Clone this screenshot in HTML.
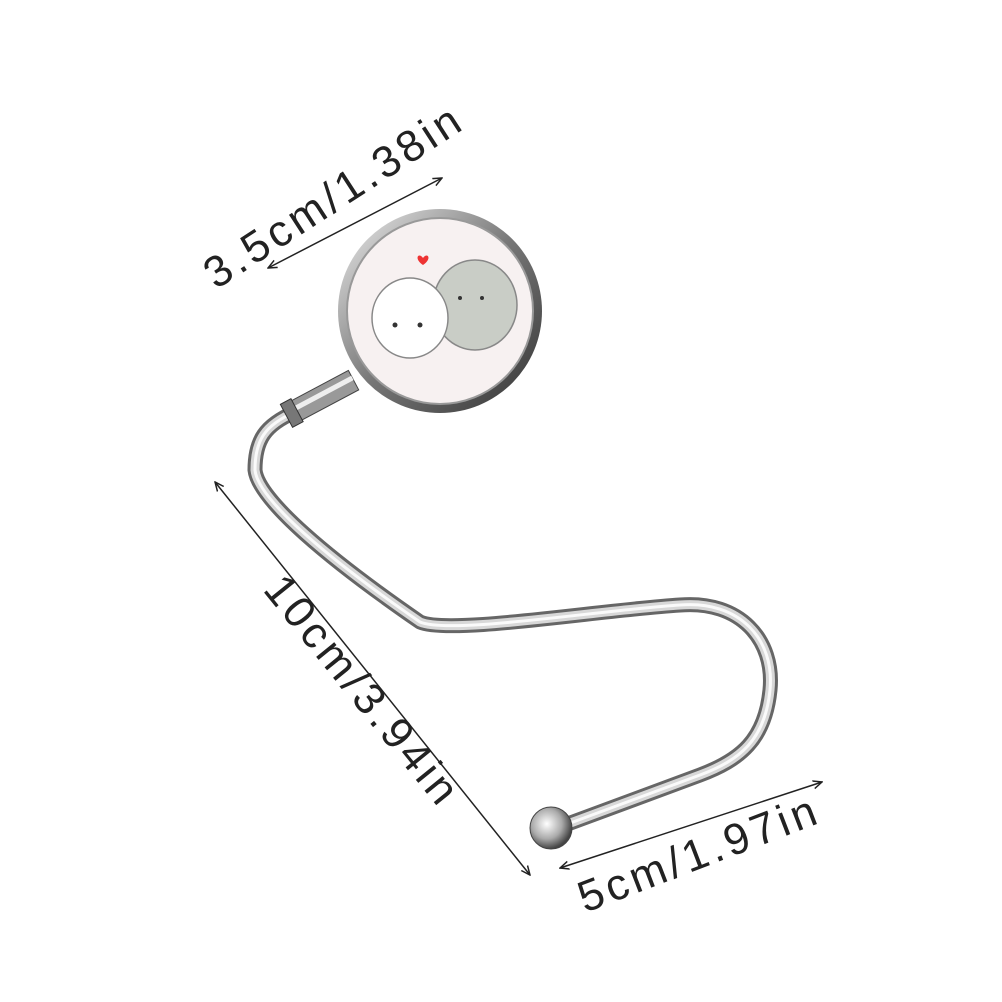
<!DOCTYPE html>
<html><head><meta charset="utf-8"><style>
html,body{margin:0;padding:0;background:#fff;}
svg{display:block}
text{font-family:"Liberation Sans",sans-serif;fill:#222;letter-spacing:4px;}
</style></head><body>
<svg width="1002" height="1002" viewBox="0 0 1002 1002" xmlns="http://www.w3.org/2000/svg">
<defs>
<marker id="a" markerWidth="10" markerHeight="10" refX="9" refY="5" orient="auto" markerUnits="userSpaceOnUse"><path d="M0,1 L9,5 L0,9" fill="none" stroke="#222" stroke-width="1.5"/></marker>
<marker id="b" markerWidth="10" markerHeight="10" refX="1" refY="5" orient="auto" markerUnits="userSpaceOnUse"><path d="M10,1 L1,5 L10,9" fill="none" stroke="#222" stroke-width="1.5"/></marker>
<radialGradient id="ball" cx="0.4" cy="0.4" r="0.6"><stop offset="0" stop-color="#fff"/><stop offset="0.6" stop-color="#aaa"/><stop offset="1" stop-color="#444"/></radialGradient>
<linearGradient id="rim" x1="0" y1="0" x2="1" y2="1"><stop offset="0" stop-color="#eee"/><stop offset="0.5" stop-color="#777"/><stop offset="1" stop-color="#333"/></linearGradient>
</defs>
<line x1="268" y1="268" x2="442" y2="178" stroke="#222" stroke-width="1.5" marker-start="url(#b)" marker-end="url(#a)"/>
<line x1="215" y1="482" x2="530" y2="875" stroke="#222" stroke-width="1.5" marker-start="url(#b)" marker-end="url(#a)"/>
<line x1="560" y1="868" x2="822" y2="782" stroke="#222" stroke-width="1.5" marker-start="url(#b)" marker-end="url(#a)"/>
<text transform="translate(216,290) rotate(-33)" font-size="44">3.5cm/1.38in</text>
<text transform="translate(262,590) rotate(51)" font-size="44">10cm/3.94in</text>
<text transform="translate(585,913) rotate(-21)" font-size="44">5cm/1.97in</text>
<g fill="none" stroke-linecap="round" stroke-linejoin="round">
<path d="M295,412 C265,425 255,440 255,470 C258,500 330,560 420,622 C450,635 600,610 680,605 C740,600 775,640 770,690 C765,740 740,760 700,775 L565,825" stroke="#666" stroke-width="15"/>
<path d="M295,412 C265,425 255,440 255,470 C258,500 330,560 420,622 C450,635 600,610 680,605 C740,600 775,640 770,690 C765,740 740,760 700,775 L565,825" stroke="#d8d8d8" stroke-width="9"/>
<path d="M295,412 C265,425 255,440 255,470 C258,500 330,560 420,622 C450,635 600,610 680,605 C740,600 775,640 770,690 C765,740 740,760 700,775 L565,825" stroke="#fafafa" stroke-width="3"/>
</g>
<g transform="translate(320,398) rotate(-28)">
<rect x="-32" y="-11" width="70" height="22" fill="#999" stroke="#444"/>
<rect x="-32" y="-5" width="70" height="5" fill="#eee"/>
<rect x="-38" y="-13" width="12" height="26" fill="#777" stroke="#333"/>
</g>
<circle cx="440" cy="311" r="102" fill="url(#rim)"/>
<circle cx="440" cy="311" r="93" fill="#f7f1f1" stroke="#999" stroke-width="2"/>
<ellipse cx="475" cy="305" rx="42" ry="45" fill="#c9cdc6" stroke="#888" stroke-width="1.5"/>
<ellipse cx="410" cy="318" rx="38" ry="40" fill="#fff" stroke="#888" stroke-width="1.5"/>
<circle cx="395" cy="325" r="2.5" fill="#333"/><circle cx="420" cy="325" r="2.5" fill="#333"/>
<circle cx="460" cy="298" r="2" fill="#333"/><circle cx="482" cy="298" r="2" fill="#333"/>
<path d="M423,258 c-4,-6 -10,0 0,7 c10,-7 4,-13 0,-7z" fill="#e33"/>
<circle cx="551" cy="828" r="21" fill="url(#ball)" stroke="#444" stroke-width="1"/>
</svg>
</body></html>
